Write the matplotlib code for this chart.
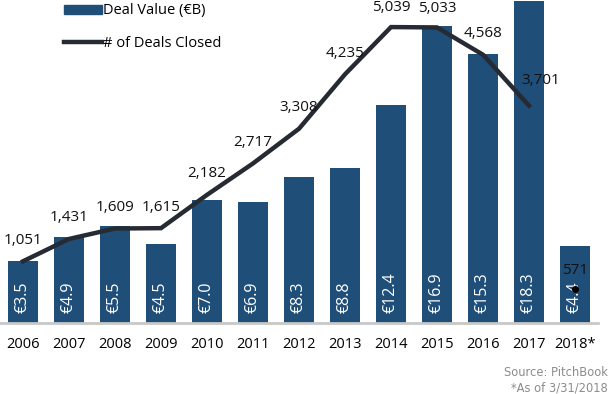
import matplotlib
matplotlib.use("Agg")
import matplotlib.pyplot as plt
from matplotlib.lines import Line2D
from matplotlib.patches import Patch

years = ["2006", "2007", "2008", "2009", "2010", "2011", "2012", "2013",
         "2014", "2015", "2016", "2017", "2018*"]
deal_value = [3.5, 4.9, 5.5, 4.5, 7.0, 6.9, 8.3, 8.8, 12.4, 16.9, 15.3, 18.3, 4.4]
deal_count = [1051, 1431, 1609, 1615, 2182, 2717, 3308, 4235, 5039, 5033, 4568, 3701, 571]

BAR = "#1f4e79"
LINE = "#262b33"
FONT = "Open Sans"
plt.rcParams["font.family"] = [FONT, "DejaVu Sans"]

fig = plt.figure(figsize=(6.09, 3.94), dpi=100)
ax = fig.add_axes([0.0, 1 - 323 / 394, 598 / 609, 323 / 394])
ax2 = ax.twinx()

x = list(range(len(years)))
ax.bar(x, deal_value, width=0.67, color=BAR, zorder=2)
ax.set_xlim(-0.5, 12.5)
ax.set_ylim(0, 18.35)

for xi, v in zip(x, deal_value):
    ax.text(xi, 0.55, f"€{v:.1f}", rotation=90, ha="center", va="bottom",
            color="white", fontsize=11.5, zorder=3)

ax2.plot(x[:-1], deal_count[:-1], color=LINE, lw=3.2, solid_joinstyle="miter", zorder=4)
ax2.plot([x[-1]], [deal_count[-1]], "o", color="black", ms=4, zorder=4)
ax2.set_ylim(0, 5500)

for xi, c in zip(x, deal_count):
    dx, dy = 0, 360
    if xi == 11:
        dx, dy = 0.25, 420
    elif xi == 12:
        dx, dy = 0, 330
    elif xi in (8, 9):
        dy = 330
    ax2.text(xi + dx, c + dy, f"{c:,}", ha="center", va="center",
             fontsize=11, color="#111111", zorder=5)

for a in (ax, ax2):
    for s in ("top", "left", "right"):
        a.spines[s].set_visible(False)
    a.set_yticks([])
ax.spines["bottom"].set_color("#c8c8c8")
ax.spines["bottom"].set_linewidth(2)
ax2.spines["bottom"].set_visible(False)
ax.set_xticks(x)
ax.set_xticklabels(years, fontsize=10.5)
ax.tick_params(axis="x", length=0, pad=10)

handles = [Patch(color=BAR), Line2D([0], [0], color=LINE, lw=3.2)]
ax2.legend(handles, ["Deal Value (€B)", "# of Deals Closed"],
           loc="upper left", bbox_to_anchor=(0.085, 1.03), frameon=False,
           fontsize=10.5, handlelength=2.6, handleheight=0.55,
           handletextpad=0.1, labelspacing=1.2)

fig.text(0.998, 1 - 372 / 394, "Source: PitchBook", ha="right", va="center",
         fontsize=8.3, color="#8c8c8c", family="DejaVu Sans")
fig.text(0.998, 1 - 388 / 394, "*As of 3/31/2018", ha="right", va="center",
         fontsize=8.3, color="#8c8c8c", family="DejaVu Sans")

fig.savefig("out.png", dpi=100)
